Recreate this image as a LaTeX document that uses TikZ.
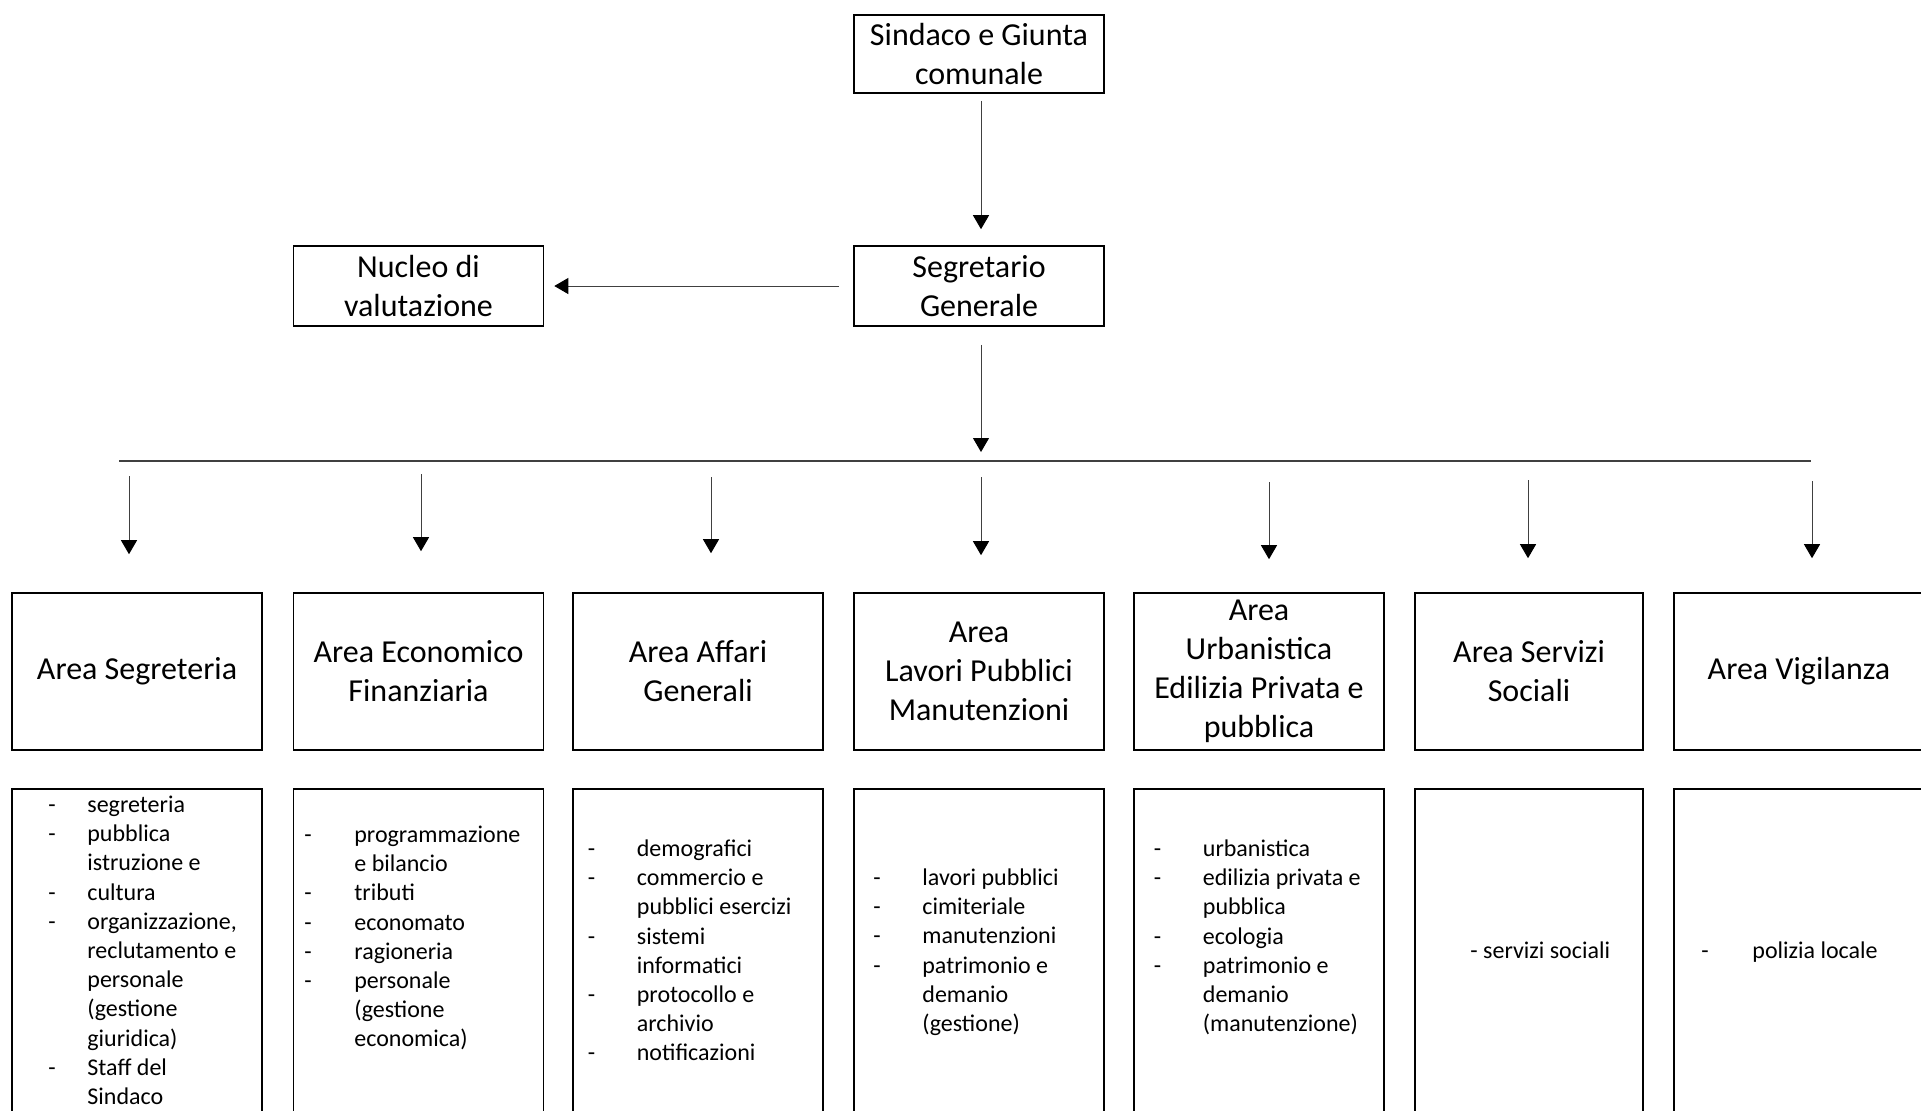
\documentclass[tikz,border=0pt]{standalone}
\usepackage{fontspec}
\setmainfont{Carlito}
\usetikzlibrary{arrows.meta}
\newcommand{\grande}{\fontsize{16pt}{19.5pt}\selectfont}
\newcommand{\piccolo}{\fontsize{12pt}{14.6pt}\selectfont}
\begin{document}
\begin{tikzpicture}[x=0.5pt,y=-0.5pt]
		\tikzstyle{casella}=[draw,line width=0.8pt,inner sep=0pt,align=center,font=\grande,minimum width=125pt]
		\tikzstyle{fleche}=[-{Triangle[length=7pt,width=8pt,color=black]},line width=0.5pt,draw=black!75]
		\tikzstyle{elenco}=[anchor=base west,inner sep=0pt,font=\piccolo]
		\def\LivelloAree{671.5}
		\def\LivelloElenchi{954}
		\def\LivelloBus{461}
		\useasboundingbox (0,0) rectangle (1921,1110);
		\clip (0,0) rectangle (1921,1110);
		\node[casella,minimum height=39pt] (sindaco) at (979,54) {Sindaco e Giunta\\comunale};
		\node[casella,minimum height=40pt] (segretario) at (979,286) {Segretario\\Generale};
		\node[casella,minimum height=40pt] (nucleo) at (418.5,286) {Nucleo di\\valutazione};
		\foreach \nome/\x/\larg/\testo in {seg/137/125/{Area Segreteria},eco/418.5/125/{Area Economico\\Finanziaria},aff/698/125/{Area Affari\\Generali},lav/979/125/{Area\\Lavori Pubblici\\Manutenzioni},urb/1259/125/{Area\\Urbanistica\\Edilizia Privata e\\pubblica},soc/1529/114/{Area Servizi\\Sociali},vig/1799/125/{Area Vigilanza}}{
			\node[casella,minimum width=\larg pt,minimum height=78.5pt] (A\nome) at (\x,\LivelloAree) {\testo};
			\node[casella,minimum width=\larg pt,minimum height=165pt] (E\nome) at (\x,\LivelloElenchi) {};
		}
		\coordinate (busG) at (119,\LivelloBus);
		\coordinate (busD) at (1811,\LivelloBus);
		\draw[line width=0.65pt,black!75] (busG) -- (busD);
		\draw[fleche,shorten <=3.5pt,shorten >=8pt] ([xshift=1pt]sindaco.south) -- ([xshift=1pt]segretario.north);
		\draw[fleche,shorten <=7pt,shorten >=5pt] (segretario.west) -- (nucleo.east);
		\draw[fleche,shorten <=9pt,shorten >=4.5pt] ([xshift=1pt]segretario.south) -- ([xshift=1pt]segretario.south |- busG);
		\foreach \nome/\x/\s/\e in {seg/129/7.5/19,eco/421/6.5/20.5,aff/711/8/19.5,lav/981/8/18.5,urb/1269/10.5/16.5,soc/1528/9.5/17,vig/1812/10/17}{
			\coordinate (b\nome) at (\x,\LivelloBus);
			\draw[fleche,shorten <=\s pt,shorten >=\e pt] (b\nome) -- (b\nome |- A\nome.north);
		}
		% elenchi dei servizi
		\node[elenco] (Lseg) at (48,812.5) {\begin{tabular}[t]{@{}p{19.5pt}@{}l@{}}
			- & segreteria\\ - & pubblica\\ & istruzione e\\ - & cultura\\ - & organizzazione,\\ & reclutamento e\\ & personale\\ & (gestione\\ & giuridica)\\ - & Staff del\\ & Sindaco\end{tabular}};
		\node[elenco] (Leco) at (304,842.5) {\begin{tabular}[t]{@{}p{25pt}@{}l@{}}
			- & programmazione\\ & e bilancio\\ - & tributi\\ - & economato\\ - & ragioneria\\ - & personale\\ & (gestione\\ & economica)\end{tabular}};
		\node[elenco] (Laff) at (587.5,856.5) {\begin{tabular}[t]{@{}p{24.5pt}@{}l@{}}
			- & demografici\\ - & commercio e\\ & pubblici esercizi\\ - & sistemi\\ & informatici\\ - & protocollo e\\ & archivio\\ - & notificazioni\end{tabular}};
		\node[elenco] (Llav) at (873,885.5) {\begin{tabular}[t]{@{}p{24.5pt}@{}l@{}}
			- & lavori pubblici\\ - & cimiteriale\\ - & manutenzioni\\ - & patrimonio e\\ & demanio\\ & (gestione)\end{tabular}};
		\node[elenco] (Lurb) at (1153.5,856.5) {\begin{tabular}[t]{@{}p{24.5pt}@{}l@{}}
			- & urbanistica\\ - & edilizia privata e\\ & pubblica\\ - & ecologia\\ - & patrimonio e\\ & demanio\\ & (manutenzione)\end{tabular}};
		\node[elenco] (Lsoc) at (1470,958.5) {- servizi sociali};
		\node[elenco] (Lvig) at (1701,958.5) {\begin{tabular}[t]{@{}p{25.5pt}@{}l@{}}
			- & polizia locale\end{tabular}};
	\end{tikzpicture}
\end{document}
